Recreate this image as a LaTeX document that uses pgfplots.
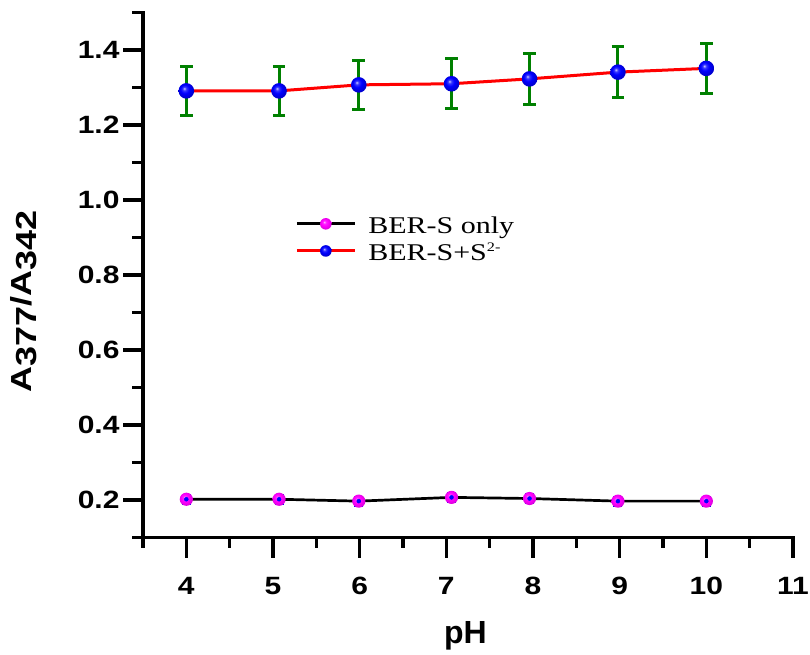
\documentclass[border=0pt]{standalone}
\usepackage{fontspec}
\setmainfont{Liberation Serif}
\newfontfamily\legfont{Liberation Serif}[FakeStretch=1.25]
\newfontfamily\tickfont{Liberation Sans}[FakeStretch=1.2]
\newfontfamily\labfont{Liberation Sans}
\newfontfamily\phfont{Liberation Sans}
\usepackage{pgfplots}
\pgfplotsset{compat=1.18}

\pgfdeclareradialshading{bluball}{\pgfpoint{-7bp}{8bp}}{color(0bp)=(blue!20!white); color(6bp)=(blue!80!white); color(14bp)=(blue); color(25bp)=(blue!82!black); color(50bp)=(blue!82!black)}
\pgfdeclareradialshading{magball}{\pgfpoint{-7bp}{8bp}}{color(0bp)=(magenta!25!white); color(6bp)=(magenta!85!white); color(14bp)=(magenta); color(25bp)=(magenta!88!black); color(50bp)=(magenta!88!black)}

\pgfdeclareplotmark{bball}{\pgfpathcircle{\pgfpointorigin}{7.8pt}\pgfshadepath{bluball}{0}\pgfusepath{discard}}
\pgfdeclareplotmark{mball}{\pgfpathcircle{\pgfpointorigin}{6.6pt}\pgfshadepath{magball}{0}\pgfusepath{discard}}
\pgfdeclareplotmark{bballs}{\pgfpathcircle{\pgfpointorigin}{5.8pt}\pgfshadepath{bluball}{0}\pgfusepath{discard}}
\pgfdeclareplotmark{mballs}{\pgfpathcircle{\pgfpointorigin}{5.8pt}\pgfshadepath{magball}{0}\pgfusepath{discard}}

\begin{document}
\begin{tikzpicture}
\begin{axis}[name=ax, scale only axis, width=650pt, height=525pt,
  xmin=3.5, xmax=11, ymin=0.1, ymax=1.5, clip=false,
  axis x line*=bottom, axis y line*=left,
  xtick={4,5,6,7,8,9,10,11}, minor xtick={3.5,4.5,5.5,6.5,7.5,8.5,9.5,10.5},
  ytick={0.2,0.4,0.6,0.8,1.0,1.2,1.4}, minor ytick={0.1,0.3,0.5,0.7,0.9,1.1,1.3,1.5},
  tick align=outside, major tick length=20pt, minor tick length=10.5pt,
  /pgf/number format/assume math mode=true,
  tick label style={font=\tickfont\bfseries\fontsize{25}{25}\selectfont},
  xticklabel style={yshift=-16pt},
  yticklabel style={/pgf/number format/.cd, fixed, fixed zerofill, precision=1},
  xlabel={pH},
  xlabel style={font=\phfont\bfseries\fontsize{32}{32}\selectfont, at={(axis description cs:0.496,-0.201)}, anchor=base},
  ylabel={\scalebox{1.24}[1]{A\raisebox{-5pt}{377}/A\raisebox{-5pt}{342}}},
  ylabel style={font=\labfont\bfseries\fontsize{29}{29}\selectfont, at={(axis description cs:-0.183,0.449)}, anchor=center},
  legend image code/.code={\draw[#1, mark repeat=2, mark phase=2] plot coordinates {(0pt,10pt) (29pt,10pt) (58pt,10pt)}; \path (70pt,10pt);},
  legend style={at={(rel axis cs:0.234,0.6105)}, anchor=north west, draw=none, fill=none, inner sep=0pt, row sep=8pt,
    font=\legfont\fontsize{24}{24}\selectfont, nodes={inner sep=0pt, anchor=base west}},
  legend cell align=left,
  axis line style={black},
]
\addplot[red, line width=3pt, mark=bball, forget plot,
  error bars/.cd, y dir=both, y explicit,
  error bar style={draw=green!50!black, color=green!50!black, line width=3pt},
  error mark options={rotate=90, draw=green!50!black, color=green!50!black, line width=3pt, mark size=6.3pt}]
  coordinates {(4,1.291) +- (0,0.065) (5.07,1.291) +- (0,0.065) (5.99,1.307) +- (0,0.065) (7.06,1.310) +- (0,0.066) (7.96,1.323) +- (0,0.067) (8.98,1.341) +- (0,0.067) (10,1.351) +- (0,0.067)};
\addplot[black, line width=2.7pt, mark=mball, forget plot]
  coordinates {(4,0.202) (5.07,0.202) (5.99,0.197) (7.06,0.207) (7.96,0.204) (8.98,0.197) (10,0.197)};
\addplot[blue, only marks, mark=none, forget plot,
  error bars/.cd, y dir=both, y explicit,
  error bar style={draw=blue, color=blue, line width=1.8pt},
  error mark options={rotate=90, draw=blue, color=blue, line width=1.8pt, mark size=4.5pt}]
  coordinates {(4,0.202) +- (0,0.012) (5.07,0.202) +- (0,0.012) (5.99,0.197) +- (0,0.012) (7.06,0.207) +- (0,0.012) (7.96,0.204) +- (0,0.012) (8.98,0.197) +- (0,0.012) (10,0.197) +- (0,0.012)};
\addlegendimage{black, line width=2.7pt, mark=mballs}
\addlegendentry{BER-S only}
\addlegendimage{red, line width=3pt, mark=bballs}
\addlegendentry{BER-S+S\raisebox{9pt}{\fontsize{13}{13}\selectfont 2-}}
% heavier axis lines and ticks drawn over the default ones
\draw[line width=3.2pt, line cap=rect] (rel axis cs:0,0) -- (rel axis cs:1,0);
\draw[line width=3.2pt, line cap=rect] (rel axis cs:0,0) -- (rel axis cs:0,1);
\pgfplotsinvokeforeach{4,5,6,7,8,9,10,11}{\draw[line width=3.2pt] (axis cs:#1,0.1) -- ++(0pt,-20pt);}
\pgfplotsinvokeforeach{3.5,4.5,5.5,6.5,7.5,8.5,9.5,10.5}{\draw[line width=3.2pt] (axis cs:#1,0.1) -- ++(0pt,-10.5pt);}
\pgfplotsinvokeforeach{0.2,0.4,0.6,0.8,1.0,1.2,1.4}{\draw[line width=3.2pt] (axis cs:3.5,#1) -- ++(-20pt,0pt);}
\pgfplotsinvokeforeach{0.1,0.3,0.5,0.7,0.9,1.1,1.3,1.5}{\draw[line width=3.2pt] (axis cs:3.5,#1) -- ++(-10.5pt,0pt);}
\end{axis}
\pgfresetboundingbox
\path ([xshift=-143pt,yshift=-116.5pt]ax.south west) rectangle ++(810pt,654pt);
\end{tikzpicture}
\end{document}
